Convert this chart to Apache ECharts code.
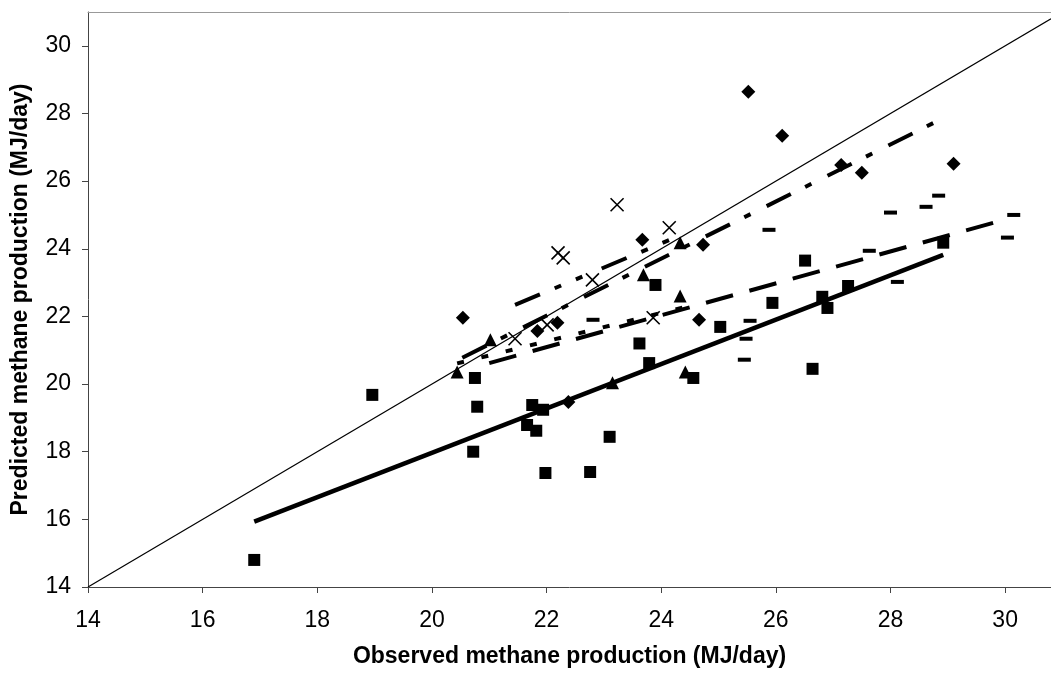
<!DOCTYPE html>
<html>
<head>
<meta charset="utf-8">
<script src="https://cdn.jsdelivr.net/npm/echarts@6/dist/echarts.min.js"></script>
<style>
  html, body { margin: 0; padding: 0; background: #fff; }
  #main { width: 1051px; height: 675px; }
</style>
</head>
<body>
<div id="main"></div>
<script>
// axis ticks
const xTicks = [14, 16, 18, 20, 22, 24, 26, 28, 30];
const yTicks = [14, 16, 18, 20, 22, 24, 26, 28, 30];

// observed (x) / predicted (y) per marker group
const squareX = [16.9, 18.96, 20.75, 20.79, 20.72, 21.66, 21.75, 21.82, 21.94, 21.98, 22.76, 23.1, 23.62, 23.79, 23.9, 24.56, 25.03, 25.94, 26.51, 26.64, 26.81, 26.9, 27.26, 28.92];
const squareY = [14.8, 19.68, 20.18, 19.33, 18.0, 18.79, 19.38, 18.62, 19.24, 17.37, 17.4, 18.44, 21.2, 20.62, 22.93, 20.18, 21.69, 22.4, 23.65, 20.45, 22.58, 22.25, 22.9, 24.18];

const diamondX = [20.54, 21.84, 22.19, 22.38, 23.67, 24.66, 24.73, 25.52, 26.11, 27.14, 27.5, 29.1];
const diamondY = [21.96, 21.57, 21.81, 19.47, 24.27, 21.9, 24.12, 28.64, 27.34, 26.48, 26.25, 26.51];

const triangleX = [20.44, 21.02, 23.15, 23.69, 24.33, 24.33, 24.42];
const triangleY = [20.36, 21.31, 20.04, 23.23, 24.18, 22.6, 20.36];

const crossX = [21.45, 22.01, 22.2, 22.29, 22.8, 23.23, 23.86, 24.14];
const crossY = [21.34, 21.75, 23.88, 23.73, 23.08, 25.3, 21.96, 24.62];

const dashX = [22.81, 25.45, 25.48, 25.55, 25.88, 27.63, 28.0, 28.12, 28.62, 28.84, 30.04, 30.15];
const dashY = [21.9, 20.72, 21.34, 21.87, 24.56, 23.94, 25.07, 23.02, 25.24, 25.57, 24.33, 25.0];

// line end points [x0, x1], [y0, y1]
const identityX = [14, 30.8];
const identityY = [14, 30.8];
const squareFitX = [16.9, 28.92];
const squareFitY = [15.93, 23.82];
const diamondFitX = [20.53, 28.87];
const diamondFitY = [20.78, 27.82];
const triangleFitX = [20.44, 24.42];
const triangleFitY = [20.61, 22.28];
const crossFitX = [21.45, 24.2];
const crossFitY = [22.34, 24.3];
const dashFitX = [21.0, 29.95];
const dashFitY = [20.62, 24.84];

const zip = (xs, ys) => xs.map((x, i) => [x, ys[i]]);

function fitLine(xs, ys, width, type) {
  return {
    type: 'line',
    data: zip(xs, ys),
    symbol: 'none',
    silent: true,
    lineStyle: { color: '#000', width: width, type: type, cap: 'butt', opacity: 1 }
  };
}

function markers(xs, ys, symbol, size, style) {
  return {
    type: 'scatter',
    data: zip(xs, ys),
    symbol: symbol,
    symbolSize: size,
    silent: true,
    itemStyle: Object.assign({ color: '#000', opacity: 1 }, style || {})
  };
}

const font = 'Arial, "Liberation Sans", sans-serif';

const chart = echarts.init(document.getElementById('main'));
chart.setOption({
  animation: false,
  backgroundColor: '#fff',
  grid: { left: 88, right: 0, top: 12, bottom: 88 },
  xAxis: [{
    type: 'value',
    min: 14, max: 30.8,
    name: 'Observed methane production (MJ/day)',
    nameLocation: 'middle',
    nameGap: 58,
    nameTextStyle: { fontFamily: font, fontWeight: 'bold', fontSize: 23, color: '#000' },
    axisLine: { lineStyle: { color: '#444', width: 1 } },
    axisTick: { inside: false, length: 6, customValues: xTicks, lineStyle: { color: '#444' } },
    axisLabel: { customValues: xTicks, margin: 22, fontFamily: font, fontSize: 23, color: '#000' },
    splitLine: { show: false }
  }, {
    type: 'value',
    position: 'top',
    min: 14, max: 30.8,
    axisLine: { show: true, lineStyle: { color: '#999', width: 1 } },
    axisTick: { show: false },
    axisLabel: { show: false },
    splitLine: { show: false }
  }],
  yAxis: {
    type: 'value',
    min: 14, max: 31,
    name: 'Predicted methane production (MJ/day)',
    nameLocation: 'middle',
    nameGap: 56,
    nameTextStyle: { fontFamily: font, fontWeight: 'bold', fontSize: 23, color: '#000' },
    axisLine: { show: true, lineStyle: { color: '#444', width: 1 } },
    axisTick: { show: true, inside: false, length: 6, customValues: yTicks, lineStyle: { color: '#444' } },
    axisLabel: { customValues: yTicks, margin: 17, fontFamily: font, fontSize: 23, color: '#000' },
    splitLine: { show: false }
  },
  series: [
    fitLine(identityX, identityY, 1.2, 'solid'),
    markers(squareX, squareY, 'rect', 12),
    markers(diamondX, diamondY, 'diamond', 14),
    markers(triangleX, triangleY, 'triangle', 13),
    markers(crossX, crossY, 'path://M0,0L12,12M12,0L0,12', 13,
      { color: 'none', borderColor: '#000', borderWidth: 1.6 }),
    markers(dashX, dashY, 'rect', [13, 4]),
    fitLine(squareFitX, squareFitY, 4.5, 'solid'),
    fitLine(diamondFitX, diamondFitY, 4, [27, 16, 7, 18]),
    fitLine(triangleFitX, triangleFitY, 4, [7, 18]),
    fitLine(crossFitX, crossFitY, 4, [27, 16, 7, 16, 7, 21]),
    fitLine(dashFitX, dashFitY, 4, [28, 17])
  ]
});
</script>
</body>
</html>
